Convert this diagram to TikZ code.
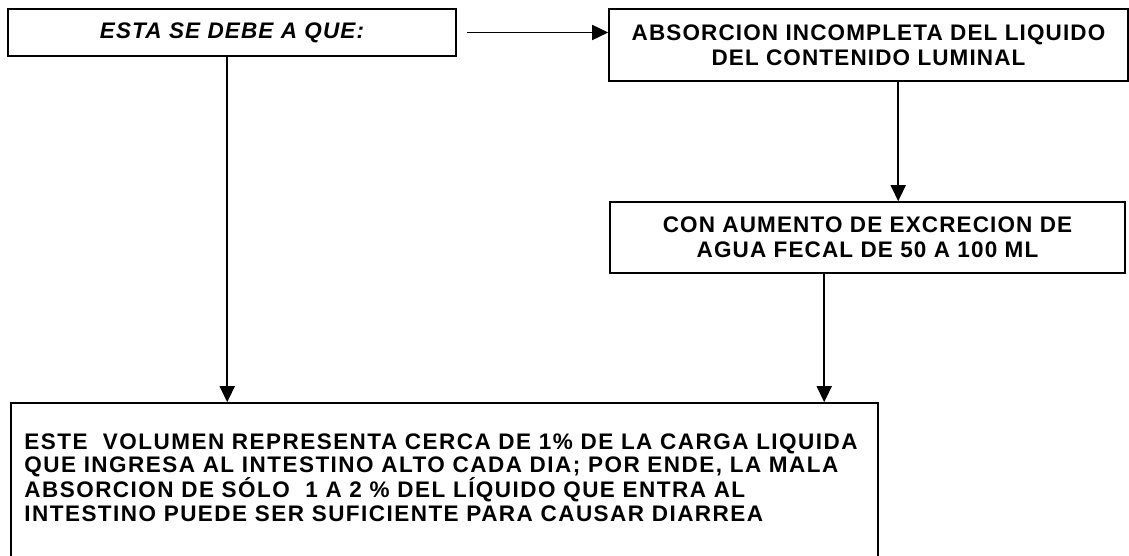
\documentclass[tikz,border=0pt]{standalone}
\usepackage{fontspec}
\setmainfont{Liberation Sans}
\usetikzlibrary{arrows.meta}
\begin{document}
\begin{tikzpicture}[x=1pt,y=-1pt,
  boxstyle/.style={draw=black,line width=1.6pt,rectangle,inner sep=0pt,align=center,
    font=\bfseries\fontsize{22.5}{25}\selectfont\addfontfeature{LetterSpace=5}},
  bigtext/.style={inner sep=0pt,align=left,anchor=north west,
    font=\bfseries\fontsize{22.5}{23.5}\selectfont\addfontfeature{LetterSpace=6.5}},
  arr/.style={line width=1.6pt,-{Triangle[length=16pt,width=15pt]}}]
\useasboundingbox (0,0) rectangle (1129,556);
\fill[white] (0,0) rectangle (1129,556);
\node[boxstyle,minimum width=448pt,minimum height=47pt] (b1) at (232,32.5) {\itshape ESTA SE DEBE A QUE:};
\node[boxstyle,minimum width=519pt,minimum height=72pt] (b2) at (868.5,45) {ABSORCION INCOMPLETA DEL LIQUIDO\\DEL CONTENIDO LUMINAL};
\node[boxstyle,minimum width=515pt,minimum height=71pt] (b3) at (867.5,237.5) {CON AUMENTO DE EXCRECION DE\\AGUA FECAL DE 50 A 100 ML};
\node[boxstyle,minimum width=867pt,minimum height=158pt] (b4) at (444.5,482) {};
\node[bigtext] (t4) at ([xshift=14pt,yshift=-31pt]b4.north west) {ESTE\ \ VOLUMEN REPRESENTA CERCA DE 1\% DE LA CARGA LIQUIDA\\QUE INGRESA AL INTESTINO ALTO CADA DIA; POR ENDE, LA MALA\\ABSORCION DE SÓLO\ \ 1 A 2 \% DEL LÍQUIDO QUE ENTRA AL\\INTESTINO PUEDE SER SUFICIENTE PARA CAUSAR DIARREA};
\draw[arr] ([xshift=10pt]b1.east) -- (b1.east -| b2.west);
\draw[arr] ([xshift=290pt]b2.south west) -- ([xshift=290pt]b2.south west |- b3.north);
\draw[arr] ([xshift=215pt]b3.south west) -- ([xshift=215pt]b3.south west |- b4.north);
\draw[arr] ([xshift=220pt]b1.south west) -- ([xshift=220pt]b1.south west |- b4.north);
\end{tikzpicture}
\end{document}
